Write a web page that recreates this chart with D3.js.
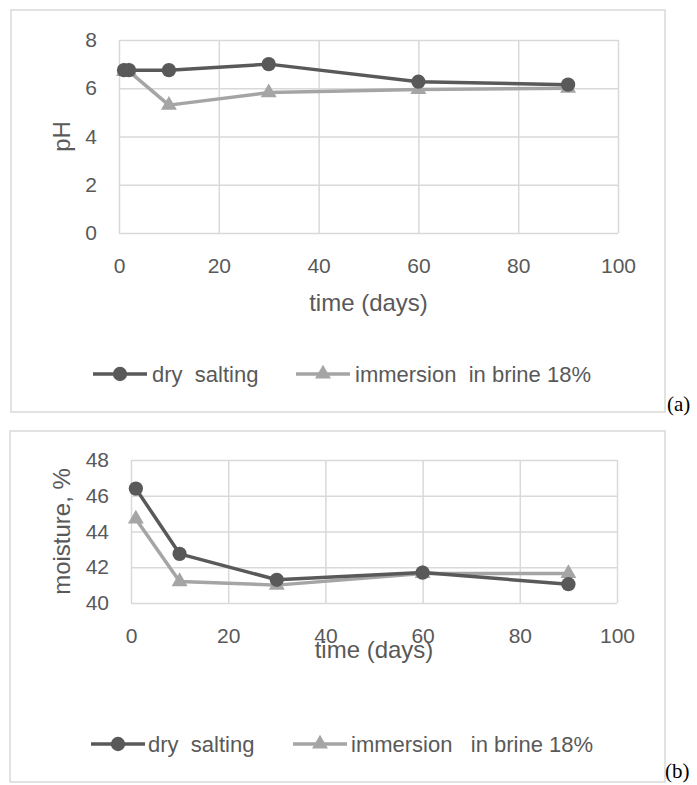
<!DOCTYPE html>
<html>
<head>
<meta charset="utf-8">
<script src="https://cdn.jsdelivr.net/npm/d3@7"></script>
<style>
  body { margin: 0; background: #fff; }
  .tick text { fill: #595959; font-family: "Liberation Sans", Arial, sans-serif; font-size: 21px; }
  .grid line { stroke: #d9d9d9; stroke-width: 1.5; }
  .axis-title { fill: #595959; font-family: "Liberation Sans", Arial, sans-serif; font-size: 24px; }
  .legend-text { fill: #595959; font-family: "Liberation Sans", Arial, sans-serif; font-size: 22px; }
  .panel-label { fill: #000; font-family: "Liberation Serif", "Times New Roman", serif; font-size: 21px; }
</style>
</head>
<body>
<div id="chart"></div>
<script>
// pH chart (a)
const phDays = [1, 2, 10, 30, 60, 90];
const phDry = [6.75, 6.75, 6.75, 7.0, 6.27, 6.15];
const phBrine = [6.7, 6.7, 5.3, 5.82, 5.95, 6.0];
const phTicks = [0, 2, 4, 6, 8];

// moisture chart (b)
const moistDays = [1, 10, 30, 60, 90];
const moistDry = [46.4, 42.75, 41.3, 41.7, 41.05];
const moistBrine = [44.7, 41.2, 41.0, 41.65, 41.65];
const moistTicks = [40, 42, 44, 46, 48];

const dayTicks = [0, 20, 40, 60, 80, 100];
const seriesNames = ["dry  salting", "immersion  in brine 18%"];
const seriesNamesB = ["dry  salting", "immersion   in brine 18%"];

const darkColor = "#595959";
const lightColor = "#a5a5a5";

const svg = d3.select("#chart").append("svg")
    .attr("width", 697)
    .attr("height", 785);

function drawPanel(p) {
  const g = svg.append("g");

  // outer frame
  g.append("rect")
      .attr("x", p.box[0]).attr("y", p.box[1])
      .attr("width", p.box[2] - p.box[0]).attr("height", p.box[3] - p.box[1])
      .attr("fill", "none").attr("stroke", "#d9d9d9").attr("stroke-width", 1.5);

  var x = d3.scaleLinear().domain([0, 100]).range([p.left, p.right]);
  var y = d3.scaleLinear().domain(p.yDomain).range([p.bottom, p.top]);

  // gridlines
  g.append("g")
      .attr("class", "grid")
      .attr("transform", "translate(0," + p.bottom + ")")
      .call(d3.axisBottom(x).tickValues(dayTicks).tickSize(-(p.bottom - p.top)).tickFormat(""))
      .call(s => s.select(".domain").remove());
  g.append("g")
      .attr("class", "grid")
      .attr("transform", "translate(" + p.left + ",0)")
      .call(d3.axisLeft(y).tickValues(p.yTicks).tickSize(-(p.right - p.left)).tickFormat(""))
      .call(s => s.select(".domain").remove());

  // tick labels
  g.append("g")
      .attr("transform", "translate(0," + p.bottom + ")")
      .call(d3.axisBottom(x).tickValues(dayTicks).tickSize(0).tickPadding(25))
      .call(s => s.select(".domain").remove());
  g.append("g")
      .attr("transform", "translate(" + p.left + ",0)")
      .call(d3.axisLeft(y).tickValues(p.yTicks).tickSize(0).tickPadding(22))
      .call(s => s.select(".domain").remove());

  // axis titles (the x title overlaps the tick labels in panel b, as in the original)
  g.append("text")
      .attr("class", "axis-title")
      .attr("x", (p.left + p.right) / 2)
      .attr("y", p.xTitleY)
      .attr("text-anchor", "middle")
      .text("time (days)");
  g.append("text")
      .attr("class", "axis-title")
      .attr("transform", "translate(70," + (p.top + p.bottom) / 2 + ") rotate(-90)")
      .attr("text-anchor", "middle")
      .text(p.yTitle);

  const line = d3.line()
      .x(d => x(d[0]))
      .y(d => y(d[1]));

  const series = [
    {values: p.dry, color: darkColor, symbol: d3.symbolCircle, size: 160},
    {values: p.brine, color: lightColor, symbol: d3.symbolTriangle, size: 110}
  ];

  // draw light series first so dark sits on top like the original
  [series[1], series[0]].forEach(function(s) {
    const pts = p.days.map((d, i) => [d, s.values[i]]);
    g.append("path")
        .datum(pts)
        .attr("fill", "none")
        .attr("stroke", s.color)
        .attr("stroke-width", 3.5)
        .attr("stroke-linejoin", "round")
        .attr("d", line);
    g.selectAll(null)
        .data(pts)
        .enter()
        .append("path")
        .attr("transform", d => "translate(" + x(d[0]) + "," + y(d[1]) + ")")
        .attr("d", d3.symbol().type(s.symbol).size(s.size))
        .attr("fill", s.color);
  });

  // legend
  const lg = g.append("g").attr("transform", "translate(0," + p.legendY + ")");
  p.legendX.forEach(function(lx, i) {
    const s = series[i];
    lg.append("line")
        .attr("x1", lx[0]).attr("x2", lx[0] + 54)
        .attr("stroke", s.color).attr("stroke-width", 3.5);
    lg.append("path")
        .attr("transform", "translate(" + (lx[0] + 27) + ",0)")
        .attr("d", d3.symbol().type(s.symbol).size(s.size))
        .attr("fill", s.color);
    lg.append("text")
        .attr("class", "legend-text")
        .attr("x", lx[1])
        .attr("dy", "0.35em")
        .style("white-space", "pre")
        .text(p.names[i]);
  });

  g.append("text")
      .attr("class", "panel-label")
      .attr("x", p.labelPos[0])
      .attr("y", p.labelPos[1])
      .text(p.label);
}

drawPanel({
  box: [11, 10, 665, 412],
  left: 119, right: 618, top: 40, bottom: 233,
  yDomain: [0, 8], yTicks: phTicks,
  days: phDays, dry: phDry, brine: phBrine,
  yTitle: "pH", xTitleY: 311,
  legendY: 374, legendX: [[93, 152], [296, 355]],
  names: seriesNames,
  label: "(a)", labelPos: [667, 411]
});

drawPanel({
  box: [10, 431, 665, 782],
  left: 131, right: 617, top: 460, bottom: 603,
  yDomain: [40, 48], yTicks: moistTicks,
  days: moistDays, dry: moistDry, brine: moistBrine,
  yTitle: "moisture, %", xTitleY: 658,
  legendY: 744, legendX: [[91, 148], [293, 351]],
  names: seriesNamesB,
  label: "(b)", labelPos: [665, 778]
});
</script>
</body>
</html>
